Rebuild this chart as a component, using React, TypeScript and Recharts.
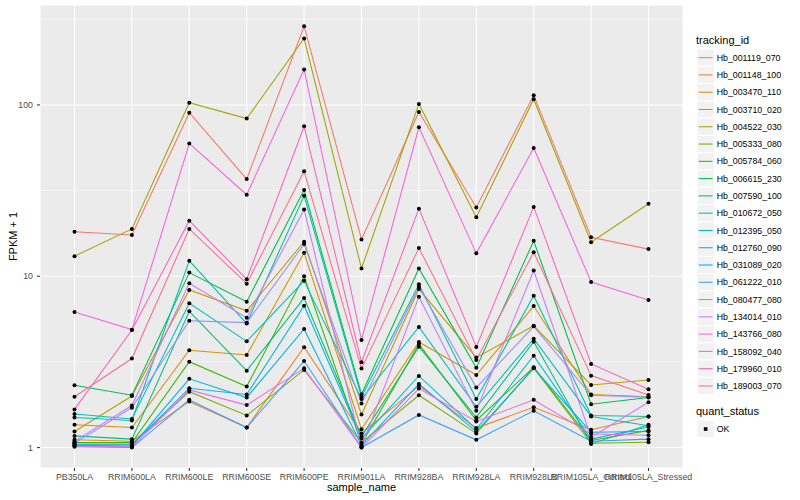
import React from 'react';
import { LineChart, Line, XAxis, YAxis, CartesianGrid, ReferenceLine, Legend } from 'recharts';

const FONT = '"Liberation Sans", Arial, Helvetica, sans-serif';

const sampleNames = [
  'PB350LA', 'RRIM600LA', 'RRIM600LE', 'RRIM600SE', 'RRIM600PE', 'RRIM901LA',
  'RRIM928BA', 'RRIM928LA', 'RRIM928LB', 'RRIM105LA_Control', 'RRIM105LA_Stressed',
];

const trackingIds = [
  'Hb_001119_070', 'Hb_001148_100', 'Hb_003470_110', 'Hb_003710_020', 'Hb_004522_030',
  'Hb_005333_080', 'Hb_005784_060', 'Hb_006615_230', 'Hb_007590_100', 'Hb_010672_050',
  'Hb_012395_050', 'Hb_012760_090', 'Hb_031089_020', 'Hb_061222_010', 'Hb_080477_080',
  'Hb_134014_010', 'Hb_143766_080', 'Hb_158092_040', 'Hb_179960_010', 'Hb_189003_070',
];

const seriesColors = [
  '#F8766D', '#EA8331', '#D89000', '#C09B00', '#A3A500',
  '#7CAE00', '#39B600', '#00BB4E', '#00BF7D', '#00C1A3',
  '#00BFC4', '#00BAE0', '#00B0F6', '#35A2FF', '#9590FF',
  '#C77CFF', '#E76BF3', '#FA62DB', '#FF62BC', '#FF6C91',
];

// FPKM + 1 per sample (order of sampleNames)
const hb_001119_070 = [18.2, 17.4, 90, 36.9, 288, 16.4, 91, 25.2, 114, 16.9, 14.4];
const hb_001148_100 = [1.11, 1.09, 1.86, 1.31, 3.85, 1.21, 2.29, 1.3, 1.72, 1.27, 1.52];
const hb_003470_110 = [1.36, 1.31, 3.7, 3.47, 13.7, 1.28, 4.13, 2.65, 6.7, 2.04, 1.98];
const hb_003710_020 = [1.24, 2.0, 8.31, 6.29, 15.9, 1.56, 8.42, 3.35, 5.14, 2.32, 2.48];
const hb_004522_030 = [13.1, 18.9, 103, 83.3, 244, 11.1, 101.4, 22.1, 108, 15.8, 26.5];
const hb_005333_080 = [1.05, 1.05, 2.12, 1.54, 2.84, 1.07, 2.02, 1.21, 2.92, 1.06, 1.075];
const hb_005784_060 = [1.07, 1.07, 3.17, 2.27, 10.0, 1.05, 4.02, 1.44, 2.94, 1.1, 1.26];
const hb_006615_230 = [2.31, 2.02, 10.5, 7.1, 31.9, 2.05, 11.1, 2.92, 16.1, 1.79, 1.96];
const hb_007590_100 = [1.17, 1.12, 6.24, 2.81, 7.46, 1.16, 3.88, 1.5, 4.15, 1.05, 1.36];
const hb_010672_050 = [1.5, 1.44, 12.3, 5.3, 29.5, 1.98, 8.97, 1.92, 7.7, 1.54, 1.52];
const hb_012395_050 = [1.57, 1.47, 6.95, 4.17, 9.4, 1.92, 5.06, 1.73, 4.32, 1.52, 1.34];
const hb_012760_090 = [1.04, 1.04, 2.22, 2.04, 6.73, 1.13, 2.62, 1.28, 3.44, 1.12, 1.32];
const hb_031089_020 = [1.03, 1.02, 2.52, 1.96, 4.92, 1.03, 2.35, 1.24, 2.9, 1.23, 1.24];
const hb_061222_010 = [1.01, 1.0, 1.9, 1.31, 3.2, 1.0, 1.55, 1.11, 1.64, 1.09, 1.12];
const hb_080477_080 = [1.06, 1.71, 5.5, 5.36, 15.4, 1.81, 8.69, 2.24, 5.1, 2.02, 1.97];
const hb_134014_010 = [1.09, 1.76, 9.1, 5.73, 24.5, 1.01, 7.59, 1.64, 10.8, 1.15, 1.84];
const hb_143766_080 = [1.02, 1.01, 2.17, 1.77, 2.9, 1.0, 2.21, 1.42, 1.9, 1.2, 1.18];
const hb_158092_040 = [6.18, 4.88, 59.6, 29.9, 161, 4.25, 74, 13.6, 56, 9.25, 7.26];
const hb_179960_010 = [1.67, 4.85, 21.1, 9.6, 75, 3.15, 24.8, 3.87, 25.4, 3.08, 2.19];
const hb_189003_070 = [1.98, 3.31, 18.9, 9.05, 41, 2.89, 14.6, 3.25, 13.8, 2.63, 2.03];

const seriesValues = [
  hb_001119_070, hb_001148_100, hb_003470_110, hb_003710_020, hb_004522_030,
  hb_005333_080, hb_005784_060, hb_006615_230, hb_007590_100, hb_010672_050,
  hb_012395_050, hb_012760_090, hb_031089_020, hb_061222_010, hb_080477_080,
  hb_134014_010, hb_143766_080, hb_158092_040, hb_179960_010, hb_189003_070,
];

const yTicks = [1, 10, 100];
const yMinor = [3.1623, 31.623, 316.23];
const yDomain = [0.76, 383];

const data = sampleNames.map((s, i) => {
  const row: Record<string, any> = { sample: s };
  trackingIds.forEach((id, k) => {
    row[id] = seriesValues[k][i];
  });
  return row;
});

const XTitle = (props: any) => {
  const vb = props.viewBox || { x: 40, y: 468, width: 643, height: 32 };
  return (
    <text x={vb.x + vb.width / 2} y={vb.y + 23} textAnchor="middle" fontSize={11} fontFamily={FONT} fill="#000">
      sample_name
    </text>
  );
};

const YTitle = (props: any) => {
  const vb = props.viewBox || { x: 0, y: 5, width: 40, height: 463 };
  const cx = vb.x + 12.5;
  const cy = vb.y + vb.height / 2;
  return (
    <text x={cx} y={cy} transform={`rotate(-90, ${cx}, ${cy})`} textAnchor="middle" dominantBaseline="central" fontSize={11} fontFamily={FONT} fill="#000">
      FPKM + 1
    </text>
  );
};

const KEY = 17.28;

const LegendBox = () => (
  <svg width={110} height={500} style={{ display: 'block' }}>
    <text x={6} y={43.5} fontSize={11} fontFamily={FONT} fill="#000">tracking_id</text>
    {trackingIds.map((id, i) => {
      const top = 49 + i * KEY;
      const cy = top + KEY / 2;
      return (
        <g key={id}>
          <rect x={7} y={top} width={KEY} height={KEY} fill="#F2F2F2" stroke="#FFFFFF" strokeWidth={1} />
          <line x1={8.7} x2={22.6} y1={cy} y2={cy} stroke={seriesColors[i]} strokeWidth={1.07} />
          <text x={26.7} y={cy + 3.1} fontSize={8.8} fontFamily={FONT} fill="#000">{id}</text>
        </g>
      );
    })}
    <text x={6} y={415.3} fontSize={11} fontFamily={FONT} fill="#000">quant_status</text>
    <rect x={7} y={420.4} width={KEY} height={KEY} fill="#F2F2F2" stroke="#FFFFFF" strokeWidth={1} />
    <rect x={7 + KEY / 2 - 1.8} y={420.4 + KEY / 2 - 1.8} width={3.6} height={3.6} fill="#000" />
    <text x={26.7} y={420.4 + KEY / 2 + 3.1} fontSize={8.8} fontFamily={FONT} fill="#000">OK</text>
  </svg>
);

const renderDot = (p: any) => {
  if (p.cx == null || p.cy == null) return <g key={`d-${p.index}`} />;
  return <circle key={`d-${p.dataKey}-${p.index}`} cx={p.cx} cy={p.cy} r={2.0} fill="#000" stroke="none" />;
};

export default function App() {
  return (
    <div style={{ position: 'absolute', left: 0, top: 0, width: 800, height: 500, background: '#fff' }}>
      <LineChart width={800} height={500} data={data} margin={{ top: 5, right: 117, bottom: 0, left: 0 }}>
        <CartesianGrid fill="#EBEBEB" stroke="#FFFFFF" strokeWidth={1.07} />
        {yMinor.map((v) => (
          <ReferenceLine key={`m-${v}`} y={v} stroke="#FFFFFF" strokeWidth={0.53} ifOverflow="hidden" />
        ))}
        <XAxis
          dataKey="sample"
          type="category"
          interval={0}
          height={32}
          padding={{ left: 34.5, right: 34.5 }}
          axisLine={false}
          tickSize={3}
          tickMargin={3}
          tickLine={{ stroke: '#333333', strokeWidth: 1.07 }}
          tick={{ fill: '#4D4D4D', fontSize: 8.8, fontFamily: FONT }}
          label={<XTitle />}
        />
        <YAxis
          type="number"
          scale="log"
          domain={yDomain}
          allowDataOverflow
          ticks={yTicks}
          width={40}
          axisLine={false}
          tickSize={3}
          tickMargin={4}
          tickLine={{ stroke: '#333333', strokeWidth: 1.07 }}
          tick={{ fill: '#4D4D4D', fontSize: 8.8, fontFamily: FONT }}
          label={<YTitle />}
        />
        {trackingIds.map((id, k) => (
          <Line
            key={id}
            dataKey={id}
            type="linear"
            stroke={seriesColors[k]}
            strokeWidth={1.07}
            dot={false}
            activeDot={false}
            isAnimationActive={false}
          />
        ))}
        {trackingIds.map((id) => (
          <Line
            key={`pts-${id}`}
            dataKey={id}
            type="linear"
            stroke="none"
            dot={renderDot}
            activeDot={false}
            legendType="none"
            isAnimationActive={false}
          />
        ))}
        <Legend
          layout="horizontal"
          verticalAlign="middle"
          align="center"
          content={<LegendBox />}
          wrapperStyle={{ position: 'absolute', left: 690, top: 0, width: 110, height: 500 }}
        />
      </LineChart>
    </div>
  );
}
